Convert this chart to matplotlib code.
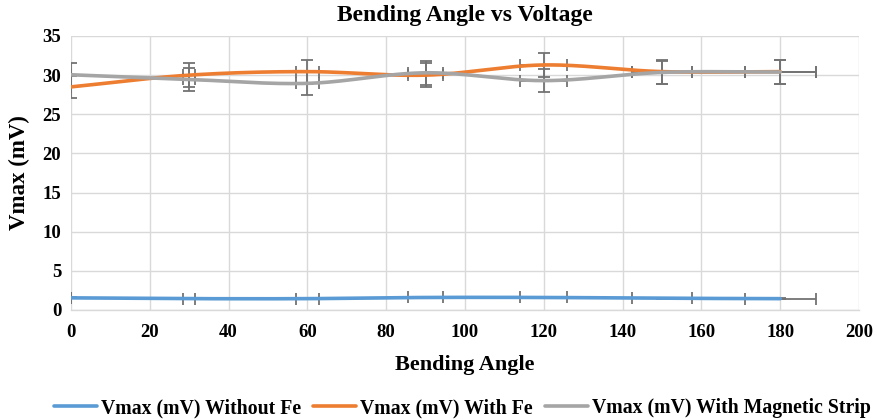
import numpy as np
import matplotlib
matplotlib.use("Agg")
import matplotlib.pyplot as plt

angles = [0, 30, 60, 90, 120, 150, 180]
without_fe = [1.55, 1.45, 1.45, 1.6, 1.6, 1.5, 1.45]
with_fe = [28.5, 30.0, 30.45, 30.0, 31.3, 30.45, 30.45]
with_strip = [30.05, 29.45, 28.95, 30.3, 29.3, 30.35, 30.4]
series_names = ["Vmax (mV) Without Fe", "Vmax (mV) With Fe", "Vmax (mV) With Magnetic Strip"]
colors = ["#5b9bd5", "#ed7d31", "#a5a5a5"]
err_pct = 0.05

plt.rcParams['font.family'] = ['Liberation Serif', 'DejaVu Serif']
plt.rcParams['font.weight'] = 'bold'


def smooth(x, y, n=30):
    # Catmull-Rom style rendering of a smoothed line through the data points
    x = np.asarray(x, float); y = np.asarray(y, float)
    px = np.concatenate([[2 * x[0] - x[1]], x, [2 * x[-1] - x[-2]]])
    py = np.concatenate([[2 * y[0] - y[1]], y, [2 * y[-1] - y[-2]]])
    ox, oy = [], []
    t = np.linspace(0, 1, n)
    for i in range(1, len(px) - 2):
        p0, p1, p2, p3 = px[i-1], px[i], px[i+1], px[i+2]
        q0, q1, q2, q3 = py[i-1], py[i], py[i+1], py[i+2]
        cx = 0.5 * ((2*p1) + (-p0+p2)*t + (2*p0-5*p1+4*p2-p3)*t**2 + (-p0+3*p1-3*p2+p3)*t**3)
        cy = 0.5 * ((2*q1) + (-q0+q2)*t + (2*q0-5*q1+4*q2-q3)*t**2 + (-q0+3*q1-3*q2+q3)*t**3)
        ox.extend(cx); oy.extend(cy)
    return np.array(ox), np.array(oy)


fig = plt.figure(figsize=(8.77, 4.2), dpi=100)
ax = fig.add_axes([71/877, 1 - 310/420, (859-71)/877, (310-36)/420])

xs = np.array(angles, float)
for vals in [without_fe, with_fe, with_strip]:
    v = np.array(vals)
    ax.errorbar(xs, v, xerr=xs * err_pct, yerr=v * err_pct, fmt='none',
                ecolor='#737373', elinewidth=1.3, capsize=4.5, capthick=1.3, zorder=2.5)
for vals, c, name in zip([without_fe, with_fe, with_strip], colors, series_names):
    sx, sy = smooth(xs, vals)
    ax.plot(sx, sy, color=c, lw=2.6, label=name, zorder=3, solid_capstyle='round')

ax.set_xlim(0, 200)
ax.set_ylim(0, 35)
ax.set_xticks(np.arange(0, 201, 20))
ax.set_yticks(np.arange(0, 36, 5))
ax.grid(True, color='#d9d9d9', lw=1.0)
ax.set_axisbelow(True)
for s in ['top', 'right', 'left']:
    ax.spines[s].set_visible(False)
ax.spines['bottom'].set_color('#d9d9d9')
ax.spines['bottom'].set_linewidth(1.0)
ax.tick_params(length=0, labelsize=13.5)
ax.tick_params(axis='x', pad=10)
ax.tick_params(axis='y', pad=7)
for lab in ax.get_xticklabels() + ax.get_yticklabels():
    lab.set_fontweight('bold')

ax.set_title("Bending Angle vs Voltage", fontsize=17, fontweight='bold', pad=11)
ax.set_xlabel("Bending Angle", fontsize=16, fontweight='bold', labelpad=10)
ax.set_ylabel("Vmax (mV)", fontsize=16.5, fontweight='bold', labelpad=9)

leg = fig.legend(loc='center', bbox_to_anchor=(0.527, 1 - 408/420), ncol=3, frameon=False,
                 prop={'weight': 'bold', 'size': 14.2}, handlelength=2.2, handletextpad=0.2,
                 columnspacing=0.6)

fig.savefig("out.png", dpi=100)
